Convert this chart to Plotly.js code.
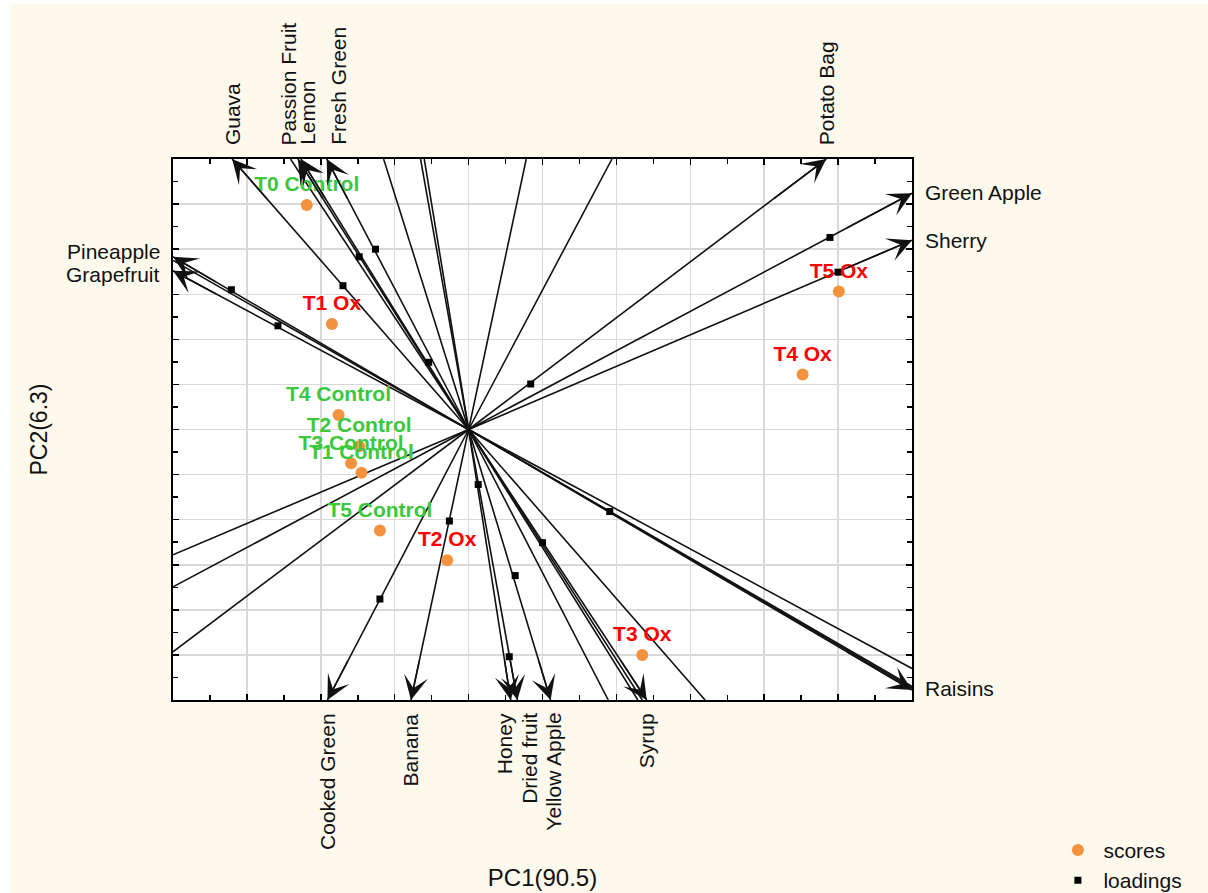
<!DOCTYPE html>
<html>
<head>
<meta charset="utf-8">
<script src="https://cdn.plot.ly/plotly-3.0.1.min.js"></script>
<style>
  html, body { margin: 0; padding: 0; background: #ffffff; }
  #chart { width: 1208px; height: 893px; }
</style>
</head>
<body>
<div id="chart"></div>
<script>
// ---- Scores (samples) ----
const scoreNames = ['T0 Control', 'T1 Ox', 'T4 Control', 'T2 Control', 'T3 Control', 'T1 Control', 'T5 Control', 'T2 Ox', 'T3 Ox', 'T4 Ox', 'T5 Ox'];
const scoreX = [-2.19, -1.85, -1.76, -1.48, -1.59, -1.45, -1.20, -0.29, 2.35, 4.52, 5.01];
const scoreY = [4.98, 2.34, 0.32, -0.37, -0.75, -0.96, -2.24, -2.90, -5.00, 1.22, 3.06];

// ---- Loadings (variables) ----
const variables = ['Guava', 'Passion Fruit', 'Lemon', 'Fresh Green', 'Potato Bag', 'Green Apple', 'Sherry', 'Raisins', 'Syrup', 'Yellow Apple', 'Dried fruit', 'Honey', 'Banana', 'Cooked Green', 'Grapefruit', 'Pineapple'];
const loadX = [-1.70, -1.48, -0.54, -1.26, 0.84, 4.89, 5.00, 1.91, 1.00, 0.63, 0.55, 0.13, -0.26, -1.20, -2.58, -3.21];
const loadY = [3.19, 3.83, 1.49, 4.00, 1.01, 4.26, 3.49, -1.82, -2.51, -3.24, -5.04, -1.22, -2.03, -3.76, 2.30, 3.10];
// arrow tips (direction lines drawn to the frame)
const arrowX = [-3.20, -2.31, -2.27, -1.92, 4.84, 6, 6, 6, 2.41, 1.11, 0.66, 0.57, -0.78, -1.91, -4, -4];
const arrowY = [6, 6, 6, 6, 6, 5.24, 4.20, -5.78, -6, -6, -6, -6, -6, -6, 3.52, 3.83];
// unlabelled direction lines (leave the frame)
const extraX = [-2.41, -1.15, -0.65, -0.60, 0.78, 1.94, -4, -4, -4, -4, 1.89, 2.29, 2.35, 3.20, 6, 6, 6];
const extraY = [6, 6, 6, 6, 6, 6, 3.75, -2.78, -3.49, -4.93, -6, -6, -6, -6, -5.30, -5.70, -5.74];

const axisTitles = { x: 'PC1(90.5)', y: 'PC2(6.3)' };

// ---- layout helpers (label nudges in px) ----
const labelNudge = { 'Passion Fruit': -9, 'Lemon': 6, 'Fresh Green': 11, 'Honey': -6, 'Dried fruit': 12, 'Yellow Apple': 2, 'Pineapple': 5, 'Grapefruit': -4, 'Green Apple': 1, 'Raisins': 2 };
const XMIN = -4, XMAX = 6, YMIN = -6, YMAX = 6;
const FONT = 'Arial, "Liberation Sans", sans-serif';

// build line segments from origin
const lx = [], ly = [];
arrowX.forEach((x, i) => { lx.push(0, x, null); ly.push(0, arrowY[i], null); });
extraX.forEach((x, i) => { lx.push(0, x, null); ly.push(0, extraY[i], null); });

const traces = [
  {
    x: lx, y: ly, mode: 'lines', type: 'scatter',
    line: { color: '#111111', width: 1.6 },
    hoverinfo: 'skip', showlegend: false
  },
  {
    x: loadX, y: loadY, text: variables, mode: 'markers', type: 'scatter', name: 'loadings',
    marker: { symbol: 'square', size: 7, color: '#000000' },
    legendrank: 2, hoverinfo: 'text'
  },
  {
    x: scoreX, y: scoreY, text: scoreNames, mode: 'markers+text', type: 'scatter', name: 'scores',
    textposition: 'top center',
    textfont: { family: FONT, size: 21, weight: 'bold', color: scoreNames.map(n => n.indexOf('Ox') >= 0 ? '#ff0000' : '#3cc83c') },
    marker: { symbol: 'circle', size: 12, color: '#f5923e' },
    legendrank: 1, cliponaxis: false
  }
];

const annotations = [];
// arrow heads
arrowX.forEach((x, i) => {
  annotations.push({
    x: x, y: arrowY[i], ax: x * 0.85, ay: arrowY[i] * 0.85,
    xref: 'x', yref: 'y', axref: 'x', ayref: 'y',
    text: '', showarrow: true, arrowhead: 3, arrowsize: 2.7, arrowwidth: 1.5, arrowcolor: '#111111'
  });
});
// variable labels
variables.forEach((name, i) => {
  const nudge = labelNudge[name] || 0;
  const base = { text: name, showarrow: false, xref: 'x', yref: 'y', font: { family: FONT, size: 21, color: '#111111' } };
  if (arrowY[i] === YMAX) {
    annotations.push(Object.assign(base, { x: arrowX[i], y: YMAX, textangle: -90, xanchor: 'center', yanchor: 'bottom', xshift: nudge, yshift: 12 }));
  } else if (arrowY[i] === YMIN) {
    annotations.push(Object.assign(base, { x: arrowX[i], y: YMIN, textangle: -90, xanchor: 'center', yanchor: 'top', xshift: nudge, yshift: -11 }));
  } else if (arrowX[i] === XMAX) {
    annotations.push(Object.assign(base, { x: XMAX, y: arrowY[i], xanchor: 'left', yanchor: 'middle', xshift: 11, yshift: nudge }));
  } else {
    annotations.push(Object.assign(base, { x: XMIN, y: arrowY[i], xanchor: 'right', yanchor: 'middle', xshift: -11, yshift: nudge }));
  }
});

const axisCommon = {
  showgrid: true, gridcolor: '#d9d9d9', gridwidth: 1.5,
  zeroline: false, showline: true, linecolor: '#000000', linewidth: 2, mirror: 'ticks',
  ticks: 'inside', ticklen: 6, tickwidth: 1.5, tickcolor: '#000000',
  showticklabels: false, dtick: 1, tick0: 0, automargin: false,
  minor: { ticks: 'inside', ticklen: 5, tickwidth: 1.5, tickcolor: '#000000', dtick: 0.5, tick0: 0, showgrid: false }
};

const layout = {
  width: 1208, height: 893,
  margin: { l: 173, r: 296, t: 159, b: 193, autoexpand: false },
  paper_bgcolor: '#fdf9ed', plot_bgcolor: '#ffffff',
  font: { family: FONT, color: '#111111' },
  xaxis: Object.assign({}, axisCommon, { range: [XMIN, XMAX], title: { text: axisTitles.x, font: { size: 24, family: FONT, color: '#111111' }, standoff: 168 } }),
  yaxis: Object.assign({}, axisCommon, { range: [YMIN, YMAX], title: { text: axisTitles.y, font: { size: 23, family: FONT, color: '#111111' }, standoff: 117 } }),
  showlegend: true,
  legend: { x: 1.19, y: -0.240, xanchor: 'left', yanchor: 'top', bgcolor: 'rgba(0,0,0,0)', itemwidth: 41, font: { size: 21, family: FONT, color: '#111111' }, tracegroupgap: 0 },
  annotations: annotations,
  shapes: [
    { type: 'rect', xref: 'paper', yref: 'paper', x0: -0.25, x1: (10 - 173) / 739, y0: -0.4, y1: 1.35, fillcolor: '#ffffff', line: { width: 0 }, layer: 'below' },
    { type: 'rect', xref: 'paper', yref: 'paper', x0: -0.25, x1: 1.45, y0: (700 - 4) / 541, y1: 1.35, fillcolor: '#ffffff', line: { width: 0 }, layer: 'below' }
  ]
};

Plotly.newPlot('chart', traces, layout, { displayModeBar: false, staticPlot: true });
</script>
</body>
</html>
